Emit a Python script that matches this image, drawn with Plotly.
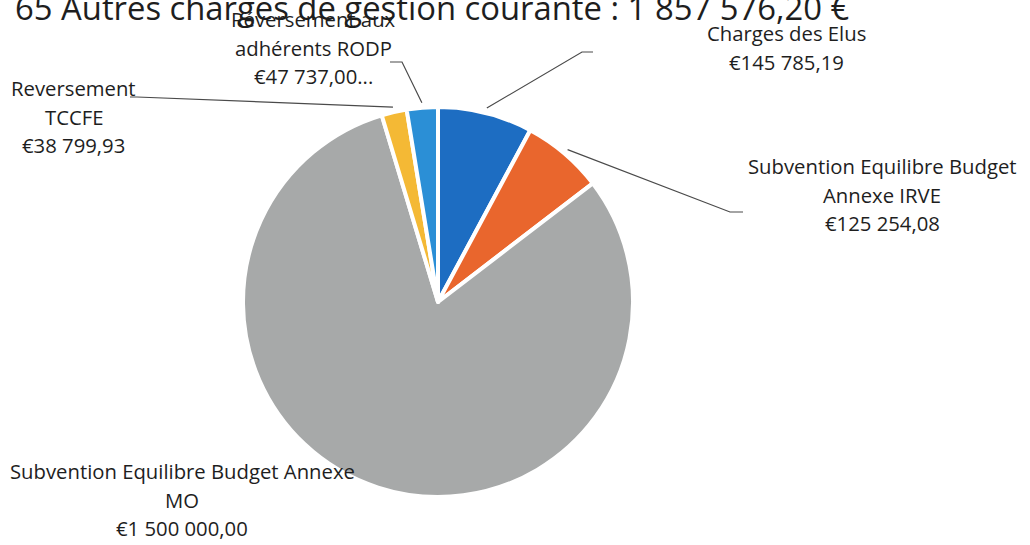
import math
import plotly.graph_objects as go

# ---- data ----
labels = ["Charges des Elus", "Subvention Equilibre Budget Annexe IRVE",
          "Subvention Equilibre Budget Annexe MO", "Reversement TCCFE",
          "Réversement aux adhérents RODP"]
values = [145785.19, 125254.08, 1500000.00, 38799.93, 47737.00]
colors = ["#1d6dc2", "#e9662d", "#a7a9a9", "#f4b935", "#2b8fd6"]
label_lines = [
    ["Charges des Elus", "€145 785,19"],
    ["Subvention Equilibre Budget", "Annexe IRVE", "€125 254,08"],
    ["Subvention Equilibre Budget Annexe", "MO", "€1 500 000,00"],
    ["Reversement", "TCCFE", "€38 799,93"],
    ["Réversement aux", "adhérents RODP", "€47 737,00..."],
]
title_text = "65 Autres charges de gestion courante : 1 857 576,20 €"

# ---- layout geometry (pixels) ----
W, H = 1030, 545
CX, CY, R = 438, 302, 195
FONT = "Open Sans"
label_pos = [  # center x, first line y (px)
    (786, 33), (882, 166), (182, 471), (74, 88), (313, 19)
]
LSTEP = 28.7
# leader line elbows (label side), None = no leader
elbows = [
    [(593, 52), (582, 52)],
    [(743, 212), (730, 212)],
    None,
    [(130, 97), (137, 97)],
    [(390, 62), (402, 62)],
]

def px(x):
    return x / W

def py(y):
    return 1 - y / H

fig = go.Figure(go.Pie(
    labels=labels, values=values, sort=False, direction="clockwise",
    rotation=0, textinfo="none", hoverinfo="label+value",
    marker=dict(colors=colors, line=dict(color="white", width=4)),
    domain=dict(x=[px(CX - R), px(CX + R)], y=[py(CY + R), py(CY - R)]),
    showlegend=False,
))

annotations = []
for (cx, y0), lines in zip(label_pos, label_lines):
    for i, t in enumerate(lines):
        annotations.append(dict(
            x=px(cx), y=py(y0 + i * LSTEP), xref="paper", yref="paper",
            text=t, showarrow=False, xanchor="center", yanchor="middle",
            font=dict(family=FONT, size=20.3, color="#1e1e1e")))

annotations.append(dict(
    x=px(432), y=py(7), xref="paper", yref="paper", text=title_text,
    showarrow=False, xanchor="center", yanchor="middle",
    font=dict(family=FONT, size=32.8, color="#1e1e1e")))

# leader lines to slice mid-angles computed from the data
total = sum(values)
shapes = []
cum = 0
for v, el in zip(values, elbows):
    mid = (cum + v / 2) / total * 2 * math.pi
    cum += v
    if el is None:
        continue
    ax = CX + (R + 5) * math.sin(mid)
    ay = CY - (R + 5) * math.cos(mid)
    pts = el + [(ax, ay)]
    path = "M " + " L ".join(f"{px(x)},{py(y)}" for x, y in pts)
    shapes.append(dict(type="path", path=path, xref="paper", yref="paper",
                       line=dict(color="#4a4a4a", width=1.2)))

fig.update_layout(
    width=W, height=H, margin=dict(l=0, r=0, t=0, b=0),
    paper_bgcolor="white", plot_bgcolor="white",
    annotations=annotations, shapes=shapes,
)
fig.write_html("out.html", config={"displayModeBar": False},
               post_script="document.body.style.margin='0';"
                           "document.body.style.overflow='hidden';")
